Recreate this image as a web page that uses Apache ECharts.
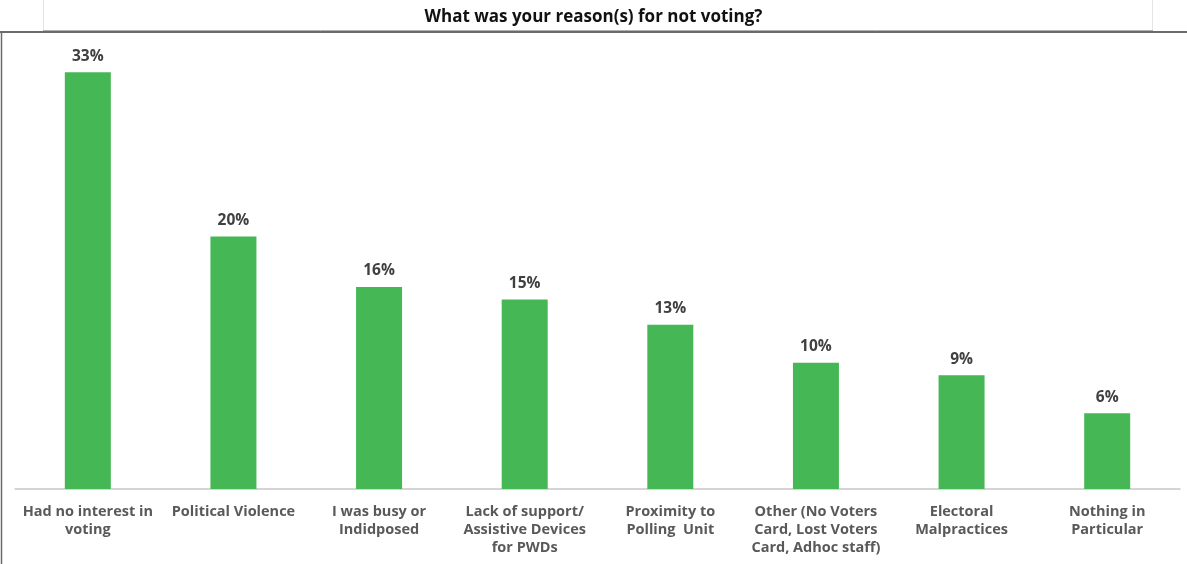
<!DOCTYPE html>
<html>
<head>
<meta charset="utf-8">
<style>
  html, body { margin: 0; padding: 0; background: #ffffff; }
  #chart { width: 1187px; height: 564px; }
</style>
<script src="https://cdn.jsdelivr.net/npm/echarts@6/dist/echarts.min.js"></script>
</head>
<body>
<div id="chart"></div>
<script>
// Reasons given for not voting (share of respondents, %)
const categories = [
  'Had no interest in\nvoting',
  'Political Violence',
  'I was busy or\nIndidposed',
  'Lack of support/\nAssistive Devices\nfor PWDs',
  'Proximity to\nPolling  Unit',
  'Other (No Voters\nCard, Lost Voters\nCard, Adhoc staff)',
  'Electoral\nMalpractices',
  'Nothing in\nParticular'
];
const shares = [33, 20, 16, 15, 13, 10, 9, 6];
const titleText = 'What was your reason(s) for not voting?';

const FONT = '"Open Sans", "Noto Sans", sans-serif';
const chart = echarts.init(document.getElementById('chart'), null, { renderer: 'canvas' });

chart.setOption({
  animation: false,
  backgroundColor: '#ffffff',
  title: {
    text: titleText,
    left: 'center',
    top: 4,
    textStyle: { fontFamily: FONT, fontSize: 17, fontWeight: 'bold', color: '#111111' }
  },
  grid: { left: 15, right: 7, top: 47, bottom: 75, containLabel: false },
  xAxis: {
    type: 'category',
    data: categories,
    axisLine: { show: true, lineStyle: { color: '#c8c8c8', width: 1.5 } },
    axisTick: { show: false },
    axisLabel: {
      interval: 0,
      margin: 14,
      fontFamily: FONT,
      fontSize: 14.5,
      fontWeight: 'bold',
      color: '#595959',
      lineHeight: 18,
      align: 'center'
    }
  },
  yAxis: {
    type: 'value',
    min: 0,
    max: 35,
    show: false,
    splitLine: { show: false }
  },
  series: [{
    type: 'bar',
    data: shares,
    barWidth: 46,
    itemStyle: { color: '#46b755' },
    label: {
      show: true,
      position: 'top',
      distance: 8,
      formatter: p => p.value + '%',
      fontFamily: FONT,
      fontSize: 15.5,
      fontWeight: 'bold',
      color: '#404040'
    }
  }],
  graphic: [
    // title panel outline
    { type: 'line', shape: { x1: 43.5, y1: 0, x2: 43.5, y2: 30 }, style: { stroke: '#e4e4e4', lineWidth: 1 } },
    { type: 'line', shape: { x1: 1152.5, y1: 0, x2: 1152.5, y2: 30 }, style: { stroke: '#e4e4e4', lineWidth: 1 } },
    { type: 'line', shape: { x1: 43, y1: 30.5, x2: 1153, y2: 30.5 }, style: { stroke: '#b0b0b0', lineWidth: 1 } },
    // chart frame
    { type: 'line', shape: { x1: 0, y1: 32, x2: 1187, y2: 32 }, style: { stroke: '#6a6a6a', lineWidth: 2 } },
    { type: 'line', shape: { x1: 1.5, y1: 31, x2: 1.5, y2: 564 }, style: { stroke: '#6a6a6a', lineWidth: 1.5 } }
  ]
});
</script>
</body>
</html>
